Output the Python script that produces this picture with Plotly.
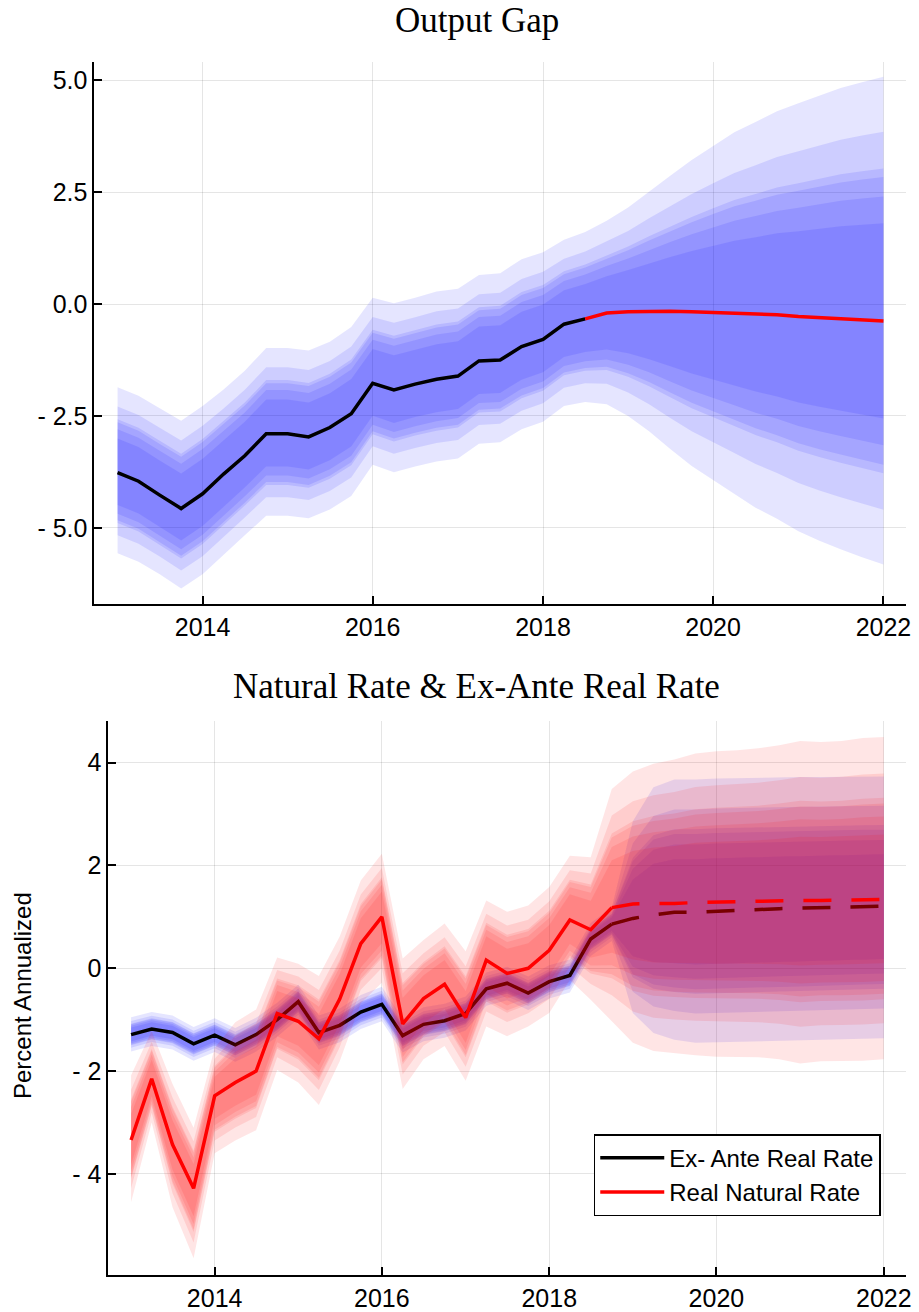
import plotly.graph_objects as go
import pandas as pd

# ---------------- data ----------------
dates = pd.date_range("2013-01-01", "2022-01-01", freq="QS").strftime("%Y-%m-%d").tolist()

# relative widths of the nested fan bands (outer -> inner)
band_levels = [1.0, 0.775, 0.625, 0.59, 0.51, 0.40]

# Output gap: median path (history to 2018Q3, forecast after), outer band edges
og_mid = [-3.77, -3.96, -4.27, -4.57, -4.24, -3.80, -3.39, -2.90, -2.90, -2.97, -2.76, -2.45,
          -1.77, -1.92, -1.79, -1.68, -1.61, -1.27, -1.25, -0.95, -0.79, -0.45, -0.33,
          -0.20, -0.17, -0.16, -0.16, -0.17, -0.19, -0.20, -0.22, -0.24, -0.28, -0.30, -0.32, -0.35, -0.38]
og_hi = [-1.86, -2.05, -2.33, -2.61, -2.28, -1.91, -1.49, -0.98, -0.98, -1.04, -0.84, -0.51,
         0.14, 0.02, 0.14, 0.28, 0.34, 0.65, 0.69, 1.00, 1.16, 1.44, 1.61,
         1.86, 2.16, 2.52, 2.87, 3.22, 3.54, 3.84, 4.07, 4.31, 4.49, 4.66, 4.83, 4.96, 5.08]
og_lo = [-5.57, -5.76, -6.04, -6.36, -6.04, -5.61, -5.17, -4.73, -4.73, -4.79, -4.59, -4.29,
         -3.59, -3.76, -3.63, -3.52, -3.45, -3.12, -3.09, -2.80, -2.63, -2.28, -2.19,
         -2.24, -2.50, -2.84, -3.24, -3.62, -3.93, -4.24, -4.55, -4.80, -5.08, -5.29, -5.48, -5.66, -5.82]
og_last_hist = 22

# Ex-ante real rate
rr_mid = [-1.29, -1.18, -1.25, -1.47, -1.30, -1.49, -1.29, -1.00, -0.65, -1.25, -1.11, -0.85,
          -0.70, -1.31, -1.09, -1.02, -0.88, -0.40, -0.29, -0.48, -0.26, -0.14, 0.57, 0.86,
          0.97, 1.04, 1.09, 1.09, 1.11, 1.12, 1.14, 1.16, 1.17, 1.18, 1.19, 1.20, 1.21]
rr_hi = [-0.95, -0.85, -0.92, -1.14, -0.97, -1.16, -0.96, -0.67, -0.32, -0.92, -0.78, -0.52,
         -0.36, -0.98, -0.76, -0.69, -0.55, -0.08, 0.03, -0.16, 0.06, 0.17, 0.88, 1.18,
         2.86, 3.52, 3.67, 3.67, 3.69, 3.70, 3.70, 3.71, 3.72, 3.72, 3.72, 3.73, 3.73]
rr_lo = [-1.62, -1.51, -1.58, -1.80, -1.63, -1.82, -1.62, -1.33, -0.98, -1.58, -1.44, -1.18,
         -1.03, -1.64, -1.42, -1.35, -1.21, -0.73, -0.62, -0.81, -0.59, -0.47, 0.24, 0.53,
         -0.87, -1.26, -1.39, -1.45, -1.45, -1.44, -1.43, -1.42, -1.41, -1.40, -1.39, -1.37, -1.36]

# Real natural rate
nr_mid = [-3.34, -2.15, -3.43, -4.28, -2.48, -2.22, -2.00, -0.88, -1.03, -1.37, -0.60, 0.48,
          1.00, -1.08, -0.59, -0.31, -0.96, 0.16, -0.10, 0.00, 0.35, 0.94, 0.75, 1.18,
          1.25, 1.26, 1.26, 1.28, 1.29, 1.30, 1.30, 1.31, 1.32, 1.32, 1.33, 1.33, 1.34]
nr_hi = [-2.08, -1.22, -2.25, -3.10, -1.55, -1.05, -0.80, 0.21, 0.09, -0.15, 0.62, 1.71,
         2.23, 0.19, 0.55, 0.87, 0.33, 1.32, 1.10, 1.22, 1.58, 2.19, 2.16, 3.49,
         3.83, 3.98, 4.06, 4.18, 4.22, 4.24, 4.28, 4.34, 4.42, 4.40, 4.42, 4.48, 4.50]
nr_lo = [-4.55, -3.00, -4.65, -5.64, -3.60, -3.35, -3.15, -1.98, -2.22, -2.66, -1.81, -0.68,
         -0.28, -2.35, -1.77, -1.51, -2.19, -1.13, -1.32, -1.13, -0.87, -0.23, -0.61, -1.02,
         -1.45, -1.61, -1.65, -1.69, -1.72, -1.72, -1.73, -1.77, -1.85, -1.81, -1.81, -1.80, -1.77]
rate_last_hist = 23

og_ticks = [5.0, 2.5, 0.0, -2.5, -5.0]
og_ticktext = ["5.0", "2.5", "0.0", "- 2.5", "- 5.0"]
rate_ticks = [4, 2, 0, -2, -4]
rate_ticktext = ["4", "2", "0", "- 2", "- 4"]
year_ticks = ["2014-01-01", "2016-01-01", "2018-01-01", "2020-01-01", "2022-01-01"]
year_ticktext = ["2014", "2016", "2018", "2020", "2022"]

# ---------------- figure ----------------
fig = go.Figure()


def add_bands(x, mid, hi, lo, rgba, xa, ya):
    for f in band_levels:
        up = [m + f * (h - m) for m, h in zip(mid, hi)]
        dn = [m - f * (m - l) for m, l in zip(mid, lo)]
        fig.add_trace(go.Scatter(
            x=x + x[::-1], y=up + dn[::-1], fill="toself", fillcolor=rgba,
            mode="lines", line=dict(width=0, color=rgba), hoverinfo="skip",
            showlegend=False, xaxis=xa, yaxis=ya))


LW = 3.5
DASH = "28px,20px"

# top panel
add_bands(dates, og_mid, og_hi, og_lo, "rgba(0,0,255,0.1)", "x", "y")
h = og_last_hist
fig.add_trace(go.Scatter(x=dates[:h + 1], y=og_mid[:h + 1], mode="lines",
                         line=dict(color="black", width=LW), showlegend=False, xaxis="x", yaxis="y"))
fig.add_trace(go.Scatter(x=dates[h:], y=og_mid[h:], mode="lines",
                         line=dict(color="red", width=LW), showlegend=False, xaxis="x", yaxis="y"))

# bottom panel
r = rate_last_hist
add_bands(dates, rr_mid, rr_hi, rr_lo, "rgba(0,0,255,0.1)", "x2", "y2")
fig.add_trace(go.Scatter(x=dates[:r + 1], y=rr_mid[:r + 1], mode="lines", name="Ex- Ante Real Rate",
                         line=dict(color="black", width=LW), showlegend=True, xaxis="x2", yaxis="y2"))
fig.add_trace(go.Scatter(x=dates[r:], y=rr_mid[r:], mode="lines",
                         line=dict(color="black", width=LW, dash=DASH), showlegend=False, xaxis="x2", yaxis="y2"))
add_bands(dates, nr_mid, nr_hi, nr_lo, "rgba(255,0,0,0.1)", "x2", "y2")
fig.add_trace(go.Scatter(x=dates[:r + 1], y=nr_mid[:r + 1], mode="lines", name="Real Natural Rate",
                         line=dict(color="red", width=LW), showlegend=True, xaxis="x2", yaxis="y2"))
fig.add_trace(go.Scatter(x=dates[r:], y=nr_mid[r:], mode="lines",
                         line=dict(color="red", width=LW, dash=DASH), showlegend=False, xaxis="x2", yaxis="y2"))

W, H = 919, 1312
SANS = "Liberation Sans, Arial, sans-serif"
SERIF = "Liberation Serif, Times New Roman, serif"
TICKF = dict(family=SANS, size=25, color="black")
GRID = "rgba(0,0,0,0.1)"
xrange_ = ["2012-09-24", "2022-04-08"]

common_x = dict(type="date", range=xrange_, tickvals=year_ticks, ticktext=year_ticktext,
                showline=True, linecolor="black", linewidth=2, ticks="inside", ticklen=8,
                tickwidth=1.5, tickcolor="black", showgrid=True, gridcolor=GRID, gridwidth=1,
                zeroline=False, tickfont=TICKF, ticklabelstandoff=0)
common_y = dict(showline=True, linecolor="black", linewidth=2, ticks="inside", ticklen=8,
                tickwidth=1.5, tickcolor="black", showgrid=True, gridcolor=GRID, gridwidth=1,
                zeroline=False, tickfont=TICKF, ticklabelstandoff=0)

fig.update_layout(
    width=W, height=H, margin=dict(l=0, r=0, t=0, b=0),
    paper_bgcolor="white", plot_bgcolor="white",
    xaxis=dict(domain=[95 / W, 911 / W], anchor="y", **common_x),
    yaxis=dict(domain=[1 - 608 / H, 1 - 62 / H], anchor="x", range=[-6.70, 5.42],
               tickvals=og_ticks, ticktext=og_ticktext, **common_y),
    xaxis2=dict(domain=[109 / W, 911 / W], anchor="y2", **common_x),
    yaxis2=dict(domain=[1 - 1284 / H, 1 - 726 / H], anchor="x2", range=[-5.97, 4.81],
                tickvals=rate_ticks, ticktext=rate_ticktext, **common_y),
    legend=dict(x=597 / W, y=1 - 1142 / H, xanchor="left", yanchor="top",
                bordercolor="black", borderwidth=1.5, bgcolor="white", itemwidth=64,
                font=dict(family=SANS, size=24, color="black"), tracegroupgap=0),
    showlegend=True,
    annotations=[
        dict(text="Output Gap", x=479.5 / W, y=1 - 21 / H, xref="paper", yref="paper",
             showarrow=False, font=dict(family=SERIF, size=35, color="black"),
             xanchor="center", yanchor="middle"),
        dict(text="Natural Rate & Ex-Ante Real Rate", x=479.5 / W, y=1 - 691 / H,
             xref="paper", yref="paper", showarrow=False,
             font=dict(family=SERIF, size=35, color="black"), xanchor="center", yanchor="middle"),
        dict(text="Percent Annualized", x=22 / W, y=1 - 1002 / H, xref="paper", yref="paper",
             showarrow=False, textangle=-90, font=dict(family=SANS, size=24, color="black"),
             xanchor="center", yanchor="middle"),
    ],
)

fig.write_html(
    "out.html", config={"displayModeBar": False},
    post_script=("document.documentElement.style.margin='0px';"
                 "document.documentElement.style.overflow='hidden';"
                 "document.body.style.margin='0px';"
                 "document.body.style.overflow='hidden';"
                 "document.body.style.height='1312px';"),
)
